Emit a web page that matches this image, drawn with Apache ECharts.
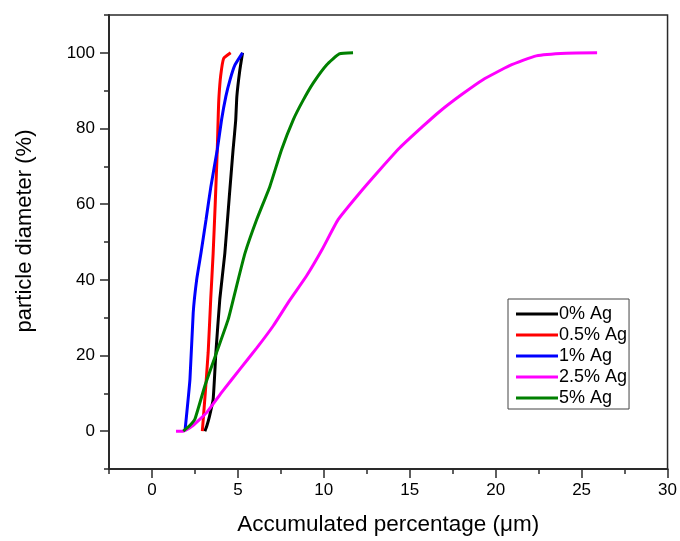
<!DOCTYPE html>
<html>
<head>
<meta charset="utf-8">
<script src="https://cdn.jsdelivr.net/npm/echarts@6/dist/echarts.min.js"></script>
<style>html,body{margin:0;padding:0;background:#fff}#c{width:680px;height:541px}</style>
</head>
<body>
<div id="c"></div>
<script>
const seriesNames = ['0% Ag', '0.5% Ag', '1% Ag', '2.5% Ag', '5% Ag'];
const seriesColors = ['#000000', '#ff0000', '#0000ff', '#ff00ff', '#008000'];

const ag0 = [[3.08,0],[3.2,1.5],[3.35,4],[3.56,8.4],[3.72,20.8],[3.95,35],[4.24,47],[4.5,62],[4.72,74.4],[4.87,82],[4.94,88.5],[5.1,95],[5.27,100]];
const ag05 = [[2.93,0],[3.1,10],[3.27,20.8],[3.42,35],[3.56,47],[3.68,60],[3.8,74.4],[3.86,84],[3.9,88.5],[4.0,94],[4.17,98.5],[4.58,100]];
const ag1 = [[1.92,0],[2.21,13.7],[2.4,31.3],[2.6,40],[2.85,47],[3.15,56],[3.43,64.7],[3.8,74.4],[4.05,82.3],[4.3,88.5],[4.55,93],[4.83,96.8],[5.27,100]];
const ag25 = [[1.4,0],[1.82,0],[2.3,1.2],[3.18,4.9],[4.1,10.5],[5.12,16.4],[6.1,22],[7.05,27.8],[8.0,34.5],[8.99,41],[9.9,48],[10.83,55.9],[12.0,62.5],[13.26,69.1],[14.42,74.9],[15.77,80.6],[16.74,84.5],[18.0,88.9],[19.26,92.9],[20.81,96.6],[22.36,99.2],[24.1,99.9],[25.9,100]];
const ag5 = [[1.82,0],[2.2,1.5],[2.5,3.2],[3.08,12],[3.76,20.8],[4.44,29.6],[4.92,38.3],[5.41,47],[6.1,56],[6.86,64.7],[7.54,74.4],[8.22,82.3],[8.8,87.5],[9.38,92],[10.16,96.8],[10.9,99.7],[11.7,100]];
const seriesData = [ag0, ag05, ag1, ag25, ag5];

const xMajorTicks = [0, 5, 10, 15, 20, 25, 30];
const yMajorTicks = [0, 20, 40, 60, 80, 100];

const FONT = '"Liberation Sans", Arial, sans-serif';
const axisColor = '#2a2a2a';

const chart = echarts.init(document.getElementById('c'), null, {renderer: 'canvas'});
chart.setOption({
  animation: false,
  backgroundColor: '#fff',
  grid: {left: 109, right: 11, top: 15, bottom: 71, show: true, borderColor: axisColor, borderWidth: 1.5, backgroundColor: 'transparent'},
  legend: {
    orient: 'vertical', left: 508, top: 299,
    data: seriesNames,
    icon: 'rect', itemWidth: 42, itemHeight: 3, itemGap: 3,
    borderColor: '#444', borderWidth: 1, padding: [6, 2, 2, 8],
    textStyle: {fontFamily: FONT, fontSize: 18, color: '#000', padding: [0, 0, 0, -4]}
  },
  xAxis: [{
    type: 'value', min: -2.5, max: 30, position: 'bottom',
    name: 'Accumulated percentage (\u03bcm)', nameLocation: 'middle', nameGap: 44,
    nameTextStyle: {fontFamily: FONT, fontSize: 22.5, color: '#000'},
    axisLine: {onZero: false, lineStyle: {color: axisColor, width: 2}},
    axisTick: {show: true, length: 9, customValues: xMajorTicks, lineStyle: {color: axisColor, width: 1.5}},
    axisLabel: {fontFamily: FONT, fontSize: 17, color: '#000', margin: 13, customValues: xMajorTicks},
    splitLine: {show: false}
  }, {
    type: 'value', min: -2.5, max: 30, interval: 2.5, position: 'bottom',
    axisLine: {show: false, onZero: false},
    axisTick: {show: true, length: 5, lineStyle: {color: axisColor, width: 1.5}},
    axisLabel: {show: false},
    splitLine: {show: false}
  }],
  yAxis: [{
    type: 'value', min: -10, max: 110, position: 'left',
    name: 'particle diameter (%)', nameLocation: 'middle', nameGap: 73,
    nameTextStyle: {fontFamily: FONT, fontSize: 22, color: '#000', padding: [0, 0, 0, 22]},
    axisLine: {onZero: false, lineStyle: {color: axisColor, width: 2}},
    axisTick: {show: true, length: 9, customValues: yMajorTicks, lineStyle: {color: axisColor, width: 1.5}},
    axisLabel: {fontFamily: FONT, fontSize: 17, color: '#000', margin: 14, customValues: yMajorTicks},
    splitLine: {show: false}
  }, {
    type: 'value', min: -10, max: 110, interval: 10, position: 'left',
    axisLine: {show: false, onZero: false},
    axisTick: {show: true, length: 5, lineStyle: {color: axisColor, width: 1.5}},
    axisLabel: {show: false},
    splitLine: {show: false}
  }],
  series: seriesNames.map((n, i) => ({
    name: n, type: 'line', data: seriesData[i],
    xAxisIndex: 0, yAxisIndex: 0,
    showSymbol: false, symbol: 'none', smooth: 0.15,
    lineStyle: {color: seriesColors[i], width: 3},
    itemStyle: {color: seriesColors[i]}
  })).concat([{
    name: 'minor-ticks', type: 'line', data: [], xAxisIndex: 1, yAxisIndex: 1,
    showSymbol: false, silent: true
  }])
});
</script>
</body>
</html>
